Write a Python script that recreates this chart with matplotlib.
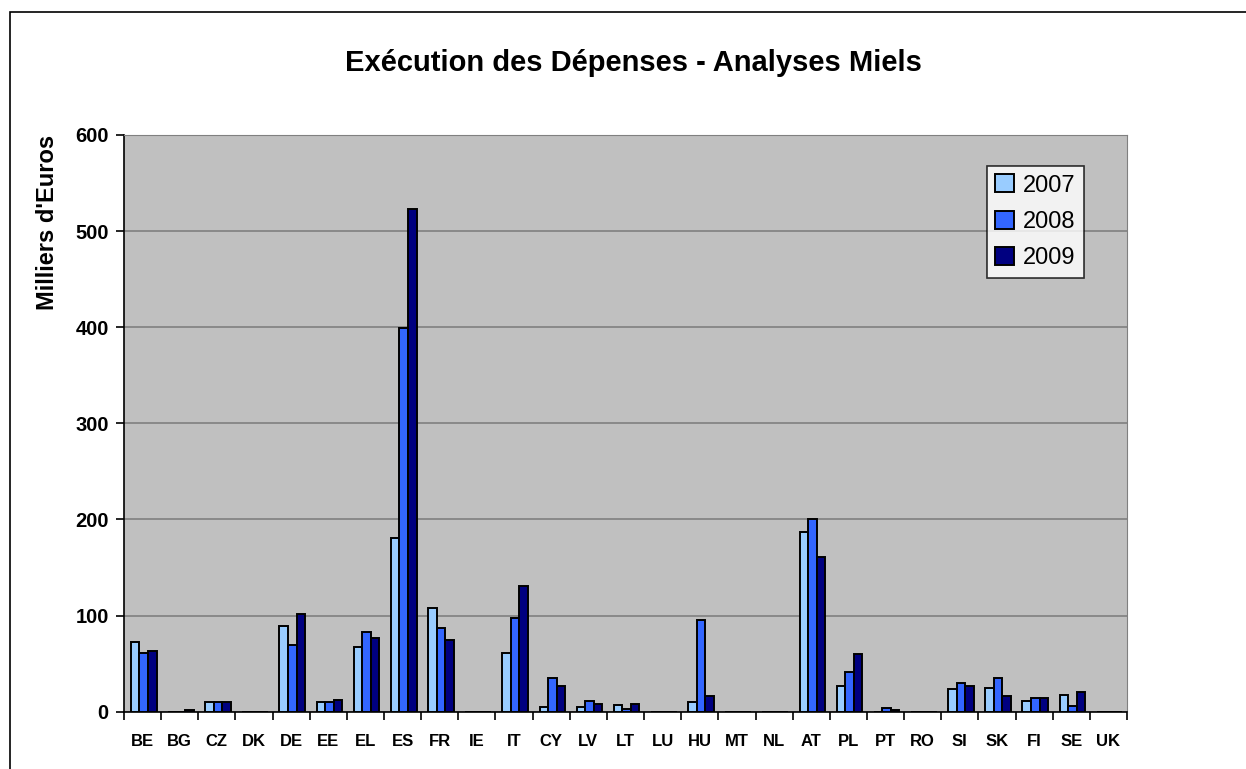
import numpy as np
import matplotlib
matplotlib.use("Agg")
import matplotlib.pyplot as plt
from matplotlib.patches import Rectangle

plt.rcParams['font.family'] = ['Liberation Sans', 'DejaVu Sans']

countries = ["BE", "BG", "CZ", "DK", "DE", "EE", "EL", "ES", "FR", "IE", "IT", "CY", "LV", "LT",
             "LU", "HU", "MT", "NL", "AT", "PL", "PT", "RO", "SI", "SK", "FI", "SE", "UK"]
v2007 = [72, 0, 10, 0, 89, 10, 67, 181, 108, 0, 61, 5, 5, 7,
         0, 10, 0, 0, 187, 27, 0, 0, 24, 25, 11, 17, 0]
v2008 = [61, 0, 10, 0, 69, 10, 83, 399, 87, 0, 98, 35, 11, 3,
         0, 95, 0, 0, 201, 41, 4, 0, 30, 35, 14, 6, 0]
v2009 = [63, 2, 10, 0, 102, 12, 77, 523, 75, 0, 131, 27, 8, 8,
         0, 16, 0, 0, 161, 60, 2, 0, 27, 16, 14, 20, 0]
years = ["2007", "2008", "2009"]
colors = ["#99CCFF", "#3366FF", "#000080"]

fig = plt.figure(figsize=(12.46, 7.69), dpi=100)
# chart frame (left/top edges visible, rest cropped)
fig.patches.append(Rectangle((10 / 1246, -0.1), 1.2, 1 - 12 / 769 + 0.1, transform=fig.transFigure,
                             fill=False, edgecolor="black", linewidth=1.2))

ax = fig.add_axes([124 / 1246, 1 - 711.7 / 769, 1003 / 1246, 576.7 / 769])
ax.set_facecolor("#C0C0C0")

x = np.arange(len(countries))
w = 0.23
for i, (vals, yr, c) in enumerate(zip([v2007, v2008, v2009], years, colors)):
    ax.bar(x + (i - 1) * w + 0.03, vals, width=w, color=c, edgecolor="black", linewidth=1.4, label=yr, zorder=3)

ax.set_xlim(-0.5, len(countries) - 0.5)
ax.set_ylim(0, 600)
ax.set_yticks(range(0, 601, 100))
ax.yaxis.grid(True, color="#808080", linewidth=1.2, zorder=0)
ax.set_axisbelow(True)

ax.set_xticks(x)
ax.set_xticklabels(countries, fontsize=12, fontweight="bold")
ax.set_xticks(np.arange(-0.5, len(countries), 1), minor=True)
ax.tick_params(axis="x", which="major", length=0, pad=16)
ax.tick_params(axis="x", which="minor", length=6, width=1.2, direction="out")
ax.tick_params(axis="y", length=6, width=1.2, direction="out", labelsize=14.5, pad=5)
for lbl in ax.get_yticklabels():
    lbl.set_fontweight("bold")

for side in ["top", "right"]:
    ax.spines[side].set_color("#808080")
ax.spines["left"].set_linewidth(1.2)
ax.spines["bottom"].set_linewidth(1.2)

fig.text(48 / 1246, 1 - 222 / 769, "Milliers d'Euros", rotation=90,
         ha="center", va="center", fontsize=17, fontweight="bold")

fig.text(633 / 1246, 1 - 63 / 769, "Exécution des Dépenses - Analyses Miels",
         ha="center", va="center", fontsize=21, fontweight="bold")

leg = ax.legend(loc="upper right", bbox_to_anchor=((1084 - 124) / 1003, 1 - (166 - 135) / 576.7),
                fontsize=17, frameon=True, fancybox=False, edgecolor="black",
                handlelength=0.8, handleheight=0.8, handletextpad=0.4, labelspacing=0.6,
                borderpad=0.35, borderaxespad=0)
leg.get_frame().set_linewidth(1.2)

fig.savefig("out.png", dpi=100)
